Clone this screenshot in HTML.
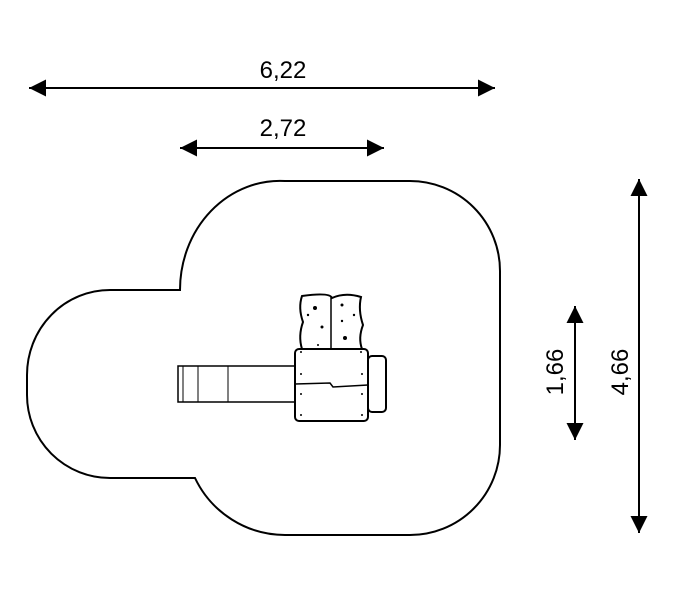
<!DOCTYPE html>
<html><head><style>body{margin:0;background:#fff}svg{display:block}</style></head>
<body>
<svg width="678" height="599" viewBox="0 0 678 599" xmlns="http://www.w3.org/2000/svg" font-family="Liberation Sans, sans-serif">
<defs>
<marker id="a" viewBox="0 0 10 10" refX="10" refY="5" markerWidth="17" markerHeight="17" markerUnits="userSpaceOnUse" orient="auto-start-reverse"><path d="M0,0 L10,5 L0,10z" fill="#000"/></marker>
</defs>
<g stroke="#000" stroke-width="2" fill="none">
<line x1="29" y1="88" x2="495" y2="88" marker-start="url(#a)" marker-end="url(#a)"/>
<line x1="180" y1="148" x2="384" y2="148" marker-start="url(#a)" marker-end="url(#a)"/>
<line x1="575" y1="306" x2="575" y2="440" marker-start="url(#a)" marker-end="url(#a)"/>
<line x1="639" y1="179" x2="639" y2="533" marker-start="url(#a)" marker-end="url(#a)"/>
<path d="M180,290 A100,109 0 0 1 285,181 L410,181 A90,90 0 0 1 500,271 L500,445 A90,90 0 0 1 410,535 L285,535 A100,100 0 0 1 195,478 L110,478 A83,83 0 0 1 27,395 L27,375 A83,85 0 0 1 110,290 Z"/>
</g>
<g stroke="#000" fill="#fff">
<rect x="178" y="366" width="118" height="36" stroke-width="1.5"/>
<line x1="183" y1="366" x2="183" y2="402" stroke-width="1"/>
<line x1="198" y1="366" x2="198" y2="402" stroke-width="1"/>
<line x1="228" y1="366" x2="228" y2="402" stroke-width="1"/>
<rect x="368" y="356" width="18" height="56" rx="4" stroke-width="2"/>
<path d="M302,296 Q330,292 332,298 Q345,292 361,297 Q358,310 363,325 Q358,338 362,349 L302,349 Q298,336 303,322 Q298,308 302,296Z" stroke-width="2"/>
<line x1="331" y1="297" x2="331" y2="349" stroke-width="1.5"/>
<rect x="295" y="349" width="73" height="72" rx="4" stroke-width="2"/>
<path d="M295,384 L330,383 L333,387 L368,385" stroke-width="1.5"/>
</g>
<g fill="#000">
<circle cx="315" cy="308" r="2"/><circle cx="342" cy="305" r="1.5"/><circle cx="308" cy="315" r="1.2"/><circle cx="354" cy="315" r="1.2"/><circle cx="322" cy="327" r="1.5"/><circle cx="342" cy="321" r="1.2"/><circle cx="345" cy="338" r="2"/><circle cx="318" cy="345" r="1"/>
<circle cx="301" cy="352" r="1"/><circle cx="361" cy="352" r="1"/><circle cx="301" cy="374" r="1"/><circle cx="362" cy="374" r="1"/><circle cx="301" cy="394" r="1"/><circle cx="362" cy="394" r="1"/><circle cx="301" cy="415" r="1"/><circle cx="362" cy="415" r="1"/>
</g>
<g font-size="24" fill="#000" text-anchor="middle">
<text x="283" y="78">6,22</text>
<text x="283" y="136">2,72</text>
<text transform="translate(563,372) rotate(-90)">1,66</text>
<text transform="translate(628,372) rotate(-90)">4,66</text>
</g>
</svg>
</body></html>
